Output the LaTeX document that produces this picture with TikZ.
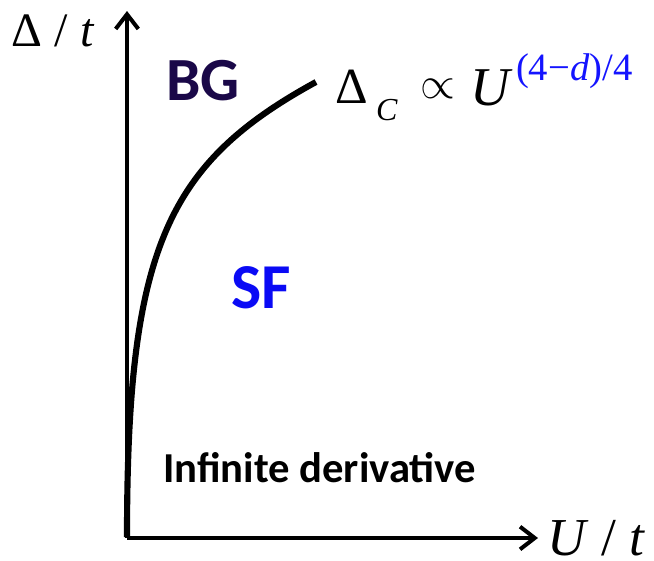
\documentclass[tikz,border=0pt]{standalone}
\usepackage{fontspec}
\setmainfont{Liberation Serif}
\newfontfamily\calibfont{Carlito}
\usetikzlibrary{arrows.meta}
\definecolor{bgcol}{RGB}{26,8,72}
\definecolor{sfcol}{RGB}{10,10,245}
\definecolor{expcol}{RGB}{20,20,255}
\tikzset{
  axis/.style={line width=3pt, -{Straight Barb[length=11pt,width=17pt,line width=3pt]}},
  curveline/.style={line width=4.6pt},
  lbl/.style={anchor=base west, inner sep=0pt, outer sep=0pt},
  region/.style={lbl, font=\calibfont\bfseries},
}
\begin{document}
\begin{tikzpicture}[x=0.75pt,y=-0.75pt]
\useasboundingbox (0,0) rectangle (654,561);
\coordinate (O) at (127,538);
\coordinate (ytip) at (127,11);
\coordinate (xtip) at (538,538);
\coordinate (cstart) at (127,537);
\coordinate (cend) at (316,82);
\draw[axis] (O) -- (ytip);
\draw[axis] (O) -- (xtip);
\draw[curveline] (cstart) .. controls (127,250) and (166,164) .. (cend);
\node[lbl, font=\fontsize{36}{40}\selectfont] (ylab) at (12,46) {Δ / \textit{t}};
\node[lbl, font=\fontsize{40}{44}\selectfont] (xlab) at (547,555) {\textit{U} / \textit{t}};
\node[region, text=bgcol, font=\calibfont\bfseries\fontsize{46}{50}\selectfont] (bg) at (166,100) {BG};
\node[region, text=sfcol, font=\calibfont\bfseries\fontsize{48}{52}\selectfont] (sf) at (231,308) {SF};
\node[region, font=\calibfont\bfseries\fontsize{32}{36}\selectfont] (inf) at (163,482) {Infinite derivative};
\node[lbl, font=\fontsize{38}{42}\selectfont] (delta) at (335,103) {Δ};
\node[lbl, font=\fontsize{24}{28}\selectfont\itshape] (sub) at (376,120) {C};
\node[anchor=center, inner sep=0pt] (prop) at (438,89) {\fontsize{38}{42}\selectfont\scalebox{1.35}{$\propto$}};
\node[lbl, font=\fontsize{41}{45}\selectfont\itshape] (U) at (470,105) {U};
\node[lbl, text=expcol, font=\fontsize{29}{32}\selectfont] (expo) at (516,80) {(4−\textit{d})/4};
\end{tikzpicture}
\end{document}
